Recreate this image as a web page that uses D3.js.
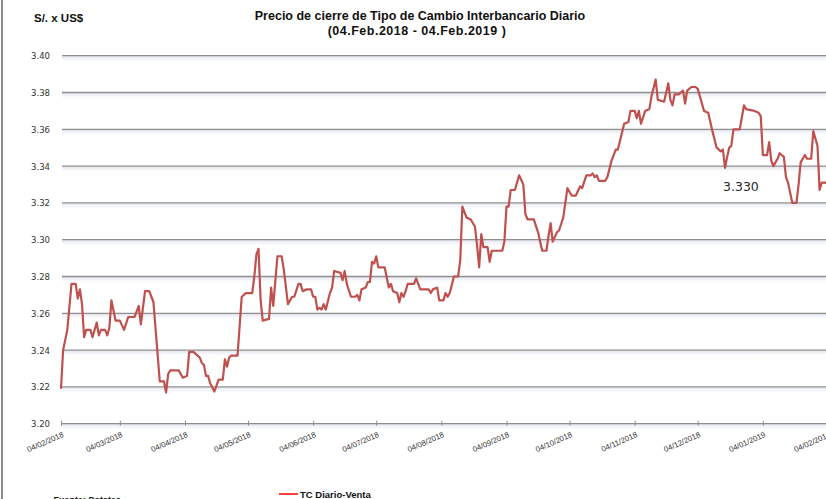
<!DOCTYPE html>
<html><head><meta charset="utf-8">
<script src="https://cdn.jsdelivr.net/npm/d3@7/dist/d3.min.js"></script>
<style>
html,body{margin:0;padding:0;background:#fff;overflow:hidden;}
svg{display:block;}
</style></head>
<body>
<script>
// ---- data ----
const title1 = "Precio de cierre de Tipo de Cambio Interbancario Diario";
const title2 = "(04.Feb.2018 - 04.Feb.2019 )";
const unitLabel = "S/. x US$";
const seriesName = "TC Diario-Venta";
const sourceLabel = "Fuente: Datatec";
const lastValueLabel = "3.330";

const yTicks = [3.20, 3.22, 3.24, 3.26, 3.28, 3.30, 3.32, 3.34, 3.36, 3.38, 3.40];
const xTickLabels = ["04/02/2018","04/03/2018","04/04/2018","04/05/2018","04/06/2018","04/07/2018",
  "04/08/2018","04/09/2018","04/10/2018","04/11/2018","04/12/2018","04/01/2019","04/02/2019"];

const dates = [
"2018-02-04","2018-02-05","2018-02-07","2018-02-09","2018-02-11","2018-02-12","2018-02-13","2018-02-14","2018-02-15","2018-02-16","2018-02-18","2018-02-19","2018-02-21","2018-02-22","2018-02-23","2018-02-25","2018-02-26","2018-02-27","2018-02-28",
"2018-03-02","2018-03-04","2018-03-06","2018-03-08","2018-03-11","2018-03-13","2018-03-14","2018-03-16","2018-03-18","2018-03-20","2018-03-23","2018-03-25","2018-03-26","2018-03-27","2018-03-28",
"2018-04-01","2018-04-03","2018-04-05","2018-04-06","2018-04-08","2018-04-11","2018-04-12","2018-04-13","2018-04-14","2018-04-15","2018-04-16","2018-04-18","2018-04-20","2018-04-22","2018-04-23","2018-04-24","2018-04-25","2018-04-26","2018-04-29",
"2018-05-01","2018-05-03","2018-05-06","2018-05-07","2018-05-08","2018-05-09","2018-05-10","2018-05-11","2018-05-14","2018-05-15","2018-05-16","2018-05-18","2018-05-20","2018-05-21","2018-05-23","2018-05-24","2018-05-25","2018-05-26","2018-05-28","2018-05-29","2018-05-30",
"2018-06-01","2018-06-03","2018-06-04","2018-06-05","2018-06-06","2018-06-07","2018-06-08","2018-06-09","2018-06-10","2018-06-12","2018-06-13","2018-06-14","2018-06-17","2018-06-18","2018-06-19","2018-06-20","2018-06-22","2018-06-24","2018-06-25","2018-06-26","2018-06-27","2018-06-29","2018-06-30",
"2018-07-01","2018-07-02","2018-07-03","2018-07-04","2018-07-05","2018-07-08","2018-07-10","2018-07-11","2018-07-12","2018-07-14","2018-07-15","2018-07-16","2018-07-17","2018-07-18","2018-07-19","2018-07-22","2018-07-23","2018-07-25","2018-07-29","2018-07-30","2018-07-31",
"2018-08-02","2018-08-03","2018-08-05","2018-08-06","2018-08-07","2018-08-08","2018-08-10","2018-08-12","2018-08-13","2018-08-14","2018-08-16","2018-08-18","2018-08-20","2018-08-21","2018-08-22","2018-08-23","2018-08-24","2018-08-26","2018-08-27","2018-08-28",
"2018-09-02","2018-09-03","2018-09-04","2018-09-05","2018-09-06","2018-09-08","2018-09-10","2018-09-12","2018-09-13","2018-09-14","2018-09-17","2018-09-19","2018-09-21","2018-09-23","2018-09-24","2018-09-25","2018-09-26","2018-09-28","2018-09-29",
"2018-10-01","2018-10-03","2018-10-05","2018-10-07","2018-10-09","2018-10-10","2018-10-12","2018-10-14","2018-10-15","2018-10-16","2018-10-17","2018-10-18","2018-10-21","2018-10-22","2018-10-24","2018-10-26","2018-10-27","2018-10-30",
"2018-11-01","2018-11-02","2018-11-04","2018-11-05","2018-11-06","2018-11-07","2018-11-09","2018-11-11","2018-11-12","2018-11-14","2018-11-15","2018-11-18","2018-11-20","2018-11-21","2018-11-22","2018-11-23","2018-11-25","2018-11-26","2018-11-27","2018-11-28","2018-11-29",
"2018-12-01","2018-12-03","2018-12-04","2018-12-07","2018-12-09","2018-12-11","2018-12-13","2018-12-15","2018-12-16","2018-12-17","2018-12-18","2018-12-19","2018-12-20","2018-12-21","2018-12-24","2018-12-26","2018-12-27","2018-12-31",
"2019-01-02","2019-01-03","2019-01-04","2019-01-06","2019-01-07","2019-01-08","2019-01-09","2019-01-11","2019-01-12","2019-01-14","2019-01-15","2019-01-16","2019-01-18","2019-01-20","2019-01-21","2019-01-22","2019-01-24","2019-01-25","2019-01-27","2019-01-28","2019-01-29","2019-01-30","2019-01-31",
"2019-02-01","2019-02-03","2019-02-04"];

const values = [
3.219,3.240,3.251,3.276,3.276,3.268,3.273,3.265,3.247,3.251,3.251,3.247,3.255,3.248,3.251,3.251,3.248,3.252,3.267,
3.256,3.256,3.251,3.258,3.258,3.264,3.254,3.272,3.272,3.266,3.223,3.223,3.217,3.227,3.229,
3.229,3.225,3.226,3.239,3.239,3.236,3.233,3.232,3.226,3.226,3.222,3.2175,3.224,3.224,3.235,3.231,3.236,3.237,3.237,
3.269,3.271,3.271,3.280,3.292,3.295,3.267,3.256,3.257,3.274,3.264,3.291,3.291,3.284,3.265,3.267,3.269,3.269,3.276,3.276,3.272,
3.273,3.273,3.269,3.269,3.262,3.263,3.262,3.265,3.262,3.271,3.274,3.283,3.282,3.278,3.283,3.276,3.269,3.269,3.270,3.267,3.273,3.274,3.277,
3.277,3.288,3.287,3.291,3.285,3.285,3.274,3.276,3.272,3.271,3.266,3.271,3.269,3.272,3.276,3.276,3.279,3.273,3.273,3.271,3.273,
3.274,3.267,3.267,3.271,3.269,3.271,3.280,3.280,3.289,3.318,3.312,3.311,3.307,3.297,3.285,3.303,3.296,3.296,3.288,3.294,
3.294,3.299,3.318,3.318,3.327,3.327,3.335,3.330,3.314,3.311,3.311,3.304,3.294,3.294,3.302,3.309,3.299,3.304,3.305,
3.312,3.328,3.324,3.324,3.329,3.328,3.335,3.335,3.336,3.334,3.335,3.332,3.332,3.334,3.343,3.349,3.349,3.363,
3.364,3.370,3.370,3.366,3.370,3.363,3.370,3.371,3.378,3.387,3.376,3.375,3.385,3.376,3.373,3.379,3.379,3.380,3.381,3.374,3.381,
3.383,3.383,3.382,3.370,3.369,3.359,3.350,3.348,3.349,3.339,3.345,3.350,3.351,3.360,3.360,3.373,3.371,3.370,
3.369,3.367,3.346,3.346,3.353,3.343,3.340,3.344,3.347,3.345,3.334,3.331,3.320,3.320,3.330,3.342,3.346,3.344,3.344,3.359,3.355,3.351,3.327,
3.331,3.331,3.330];

// ---- drawing ----
const W = 826, H = 499;
const parseISO = d3.timeParse("%Y-%m-%d");
const parseTick = d3.timeParse("%d/%m/%Y");
const data = dates.map((d, i) => ({ date: parseISO(d), value: values[i] }));
const tickDates = xTickLabels.map(parseTick);

const svg = d3.select("body").append("svg").attr("width", W).attr("height", H);

const x = d3.scaleTime().domain([tickDates[0], tickDates[tickDates.length - 1]]).range([61, 828]);
const y = d3.scaleLinear().domain([3.20, 3.40]).range([423.7, 55.7]);

const defs = svg.append("defs");
const grad = defs.append("linearGradient").attr("id", "glow").attr("x1", 0).attr("y1", 0).attr("x2", 0).attr("y2", 1);
grad.append("stop").attr("offset", "0%").attr("stop-color", "#dfe4ec");
grad.append("stop").attr("offset", "100%").attr("stop-color", "#ffffff").attr("stop-opacity", 0);

// left border
svg.append("line").attr("x1", 2).attr("x2", 2).attr("y1", 0).attr("y2", H)
  .attr("stroke", "#8c8c8c").attr("stroke-width", 2);

// grid glow + grid lines
const grid = svg.append("g");
grid.selectAll("rect.glow").data(yTicks).join("rect")
  .attr("x", 62).attr("width", W).attr("y", d => y(d) + 0.5).attr("height", 7)
  .attr("fill", "url(#glow)");
grid.selectAll("line.g").data(yTicks).join("line")
  .attr("x1", 62).attr("x2", W + 5)
  .attr("y1", d => y(d)).attr("y2", d => y(d))
  .attr("stroke", "#8f8f8f").attr("stroke-width", 1.3);

// y axis labels
const yAxis = d3.axisLeft(y).tickValues(yTicks).tickFormat(d3.format(".2f")).tickSize(0).tickPadding(0);
const gy = svg.append("g").attr("transform", "translate(50,0)").call(yAxis);
gy.select(".domain").remove();
gy.selectAll("text").attr("font-family", "DejaVu Sans, Verdana, sans-serif").attr("font-size", 8.5)
  .attr("fill", "#333").attr("dy", "0.35em");

// x axis
const xAxis = d3.axisBottom(x).tickValues(tickDates).tickFormat(d3.timeFormat("%d/%m/%Y")).tickSize(3).tickPadding(0);
const gx = svg.append("g").attr("transform", `translate(0,${y(3.20)})`).call(xAxis);
gx.select(".domain").remove();
gx.selectAll(".tick line").attr("stroke", "#8f8f8f").attr("y1", -3).attr("y2", 2);
gx.selectAll("text")
  .attr("font-family", "Liberation Sans, Arial, sans-serif").attr("font-size", 7.8).attr("fill", "#333")
  .attr("text-anchor", "end").attr("dy", 0)
  .attr("transform", "translate(1.5,10) rotate(-24)");

// series line
const line = d3.line().x(d => x(d.date)).y(d => y(d.value));
svg.append("path").datum(data).attr("d", line)
  .attr("fill", "none").attr("stroke", "#c0504d").attr("stroke-width", 2.2)
  .attr("stroke-linejoin", "round");

// last value annotation
svg.append("text").attr("x", 723).attr("y", 191).text(lastValueLabel)
  .attr("font-family", "DejaVu Sans, Verdana, sans-serif").attr("font-size", 12.5).attr("fill", "#262626");

// titles
svg.append("text").attr("x", 420).attr("y", 20).attr("text-anchor", "middle").text(title1)
  .attr("font-family", "Liberation Sans, Arial, sans-serif").attr("font-weight", "bold").attr("font-size", 12.5).attr("fill", "#111");
svg.append("text").attr("x", 417).attr("y", 35).attr("text-anchor", "middle").text(title2)
  .attr("font-family", "Liberation Sans, Arial, sans-serif").attr("font-weight", "bold").attr("font-size", 12.5)
  .attr("letter-spacing", 0.5).attr("fill", "#111");
svg.append("text").attr("x", 34).attr("y", 22).text(unitLabel)
  .attr("font-family", "Liberation Sans, Arial, sans-serif").attr("font-weight", "bold").attr("font-size", 11.5).attr("fill", "#111");

// legend
svg.append("line").attr("x1", 279).attr("x2", 298).attr("y1", 494).attr("y2", 494)
  .attr("stroke", "#ff0000").attr("stroke-width", 1.5);
svg.append("text").attr("x", 300).attr("y", 497.5).text(seriesName)
  .attr("font-family", "Liberation Sans, Arial, sans-serif").attr("font-weight", "bold").attr("font-size", 9.5).attr("fill", "#111");

// source
svg.append("text").attr("x", 53).attr("y", 503).text(sourceLabel)
  .attr("font-family", "Liberation Sans, Arial, sans-serif").attr("font-weight", "bold").attr("font-style", "italic")
  .attr("font-size", 9).attr("fill", "#111");
</script>
</body></html>
